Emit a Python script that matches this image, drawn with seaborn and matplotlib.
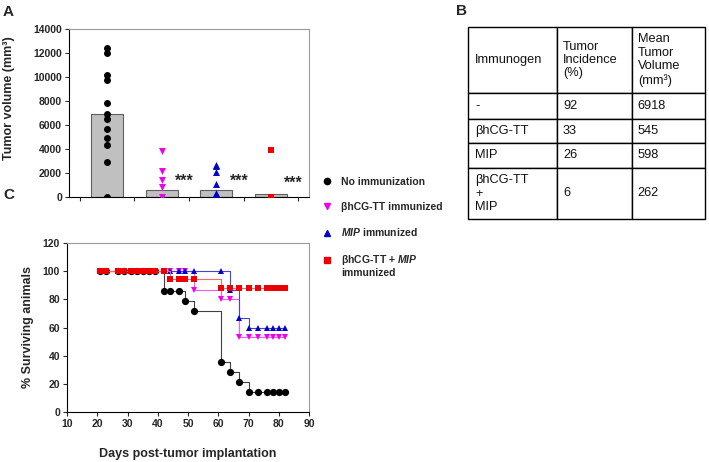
import matplotlib
matplotlib.use('Agg')
import matplotlib.pyplot as plt
from matplotlib.lines import Line2D
import numpy as np
import pandas as pd
import seaborn as sns

# ---- data ----
groups = ['No immunization', 'βhCG-TT', 'MIP', 'βhCG-TT + MIP']
vol_none = [12400, 12000, 10200, 9750, 7800, 6900, 6500, 5700, 4900, 4350, 2950, 0]
vol_bhcg = [3830, 2150, 1400, 850, 0]
vol_mip = [2700, 2550, 2050, 1120, 350, 150, 0]
vol_combo = [3950, 0]
mean_vol = [6918, 545, 598, 262]
incidence = [92, 33, 26, 6]
immunogens = ['-', 'βhCG-TT', 'MIP', 'βhCG-TT\n+\nMIP']
table_header = ['Immunogen', 'Tumor\nIncidence\n(%)', 'Mean\nTumor\nVolume\n(mm³)']
star_y = [None, 1300, 1300, 1150]

days = [21, 23, 27, 29, 31, 33, 35, 37, 39, 42, 44, 47, 49, 52,
        61, 64, 67, 70, 73, 76, 78, 80, 82]
surv_none = [100]*9 + [85.7, 85.7, 85.7, 78.6, 71.4, 35.7, 28.6, 21.4] + [14.3]*6
surv_bhcg = [100]*13 + [86.7, 80, 80] + [53.3]*7
surv_mip = [100]*15 + [86.7, 66.7] + [60]*6
surv_combo = [100]*10 + [94.1]*4 + [88.2]*9

legend_labels = ['No immunization', 'βhCG-TT immunized', r'$\mathit{MIP}$ immunized',
                 'βhCG-TT + $\\mathit{MIP}$\nimmunized']
marker_colors = ['black', '#ee00ee', '#0000cc', '#ee0000']
line_colors = ['#404040', '#ff55ff', '#4444dd', '#ff6666']
markers_a = ['o', 'v', '^', 's']
markers_c = ['o', 'v', '^', 's']

sns.set_style('ticks')
plt.rcParams['font.family'] = ['Liberation Sans', 'DejaVu Sans']
plt.rcParams['mathtext.fontset'] = 'custom'
plt.rcParams['mathtext.it'] = 'Liberation Sans:italic:bold'
plt.rcParams['mathtext.rm'] = 'Liberation Sans:bold'

fig = plt.figure(figsize=(7.09, 4.62), dpi=100)
W, H = 709, 462


def style_frame(ax):
    for s in ['left', 'bottom']:
        ax.spines[s].set_color('black')
        ax.spines[s].set_linewidth(0.8)
    for s in ['top', 'right']:
        ax.spines[s].set_visible(True)
        ax.spines[s].set_color('#9a9a9a')
        ax.spines[s].set_linewidth(0.8)
    ax.tick_params(direction='out', length=3, width=0.8, labelsize=7.5, pad=2)
    for lbl in ax.get_xticklabels() + ax.get_yticklabels():
        lbl.set_fontweight('bold')


# ---- panel A ----
ax_a = fig.add_axes([69/W, 1-197/H, 240/W, 168/H])
sns.barplot(x=groups, y=mean_vol, color='#c0c0c0', edgecolor='#606060',
            linewidth=0.8, width=0.59, saturation=1, ax=ax_a)
df_a = pd.DataFrame({
    'group': [groups[0]]*len(vol_none) + [groups[1]]*len(vol_bhcg)
             + [groups[2]]*len(vol_mip) + [groups[3]]*len(vol_combo),
    'vol': vol_none + vol_bhcg + vol_mip + vol_combo})
sizes_a = [5, 5, 5, 4.5]
for g, m, c, sz in zip(groups, markers_a, marker_colors, sizes_a):
    sns.stripplot(data=df_a[df_a['group'] == g], x='group', y='vol', order=groups,
                  jitter=False, marker=m, color=c, size=sz, linewidth=0, ax=ax_a)
for i, y in enumerate(star_y):
    if y is not None:
        ax_a.text(i + 0.42, y, '***', ha='center', va='center', fontsize=11.5,
                  fontweight='bold')
ax_a.set_xlim(-0.7, 3.7)
ax_a.set_ylim(0, 14000)
ax_a.set_yticks(np.arange(0, 14001, 2000))
ax_a.set_xticks([-0.5, 0.5, 1.5, 2.5, 3.5], labels=['']*5)
ax_a.set_xlabel('')
ax_a.set_ylabel('Tumor volume (mm³)', fontsize=9, fontweight='bold')
ax_a.yaxis.set_label_coords(-0.225, 0.59)
style_frame(ax_a)

# ---- panel B: table ----
ax_b = fig.add_axes([468/W, 1-219/H, 237/W, 192/H])
ax_b.axis('off')
cell_text = [table_header] + [[im, str(inc), str(mv)]
                              for im, inc, mv in zip(immunogens, incidence, mean_vol)]
tbl = ax_b.table(cellText=cell_text, colWidths=[89, 75, 73], cellLoc='left',
                 bbox=[0, 0, 1, 1])
tbl.auto_set_font_size(False)
tbl.set_fontsize(9.2)
row_h = [66, 26, 24, 25, 51]
for (r, c), cell in tbl.get_celld().items():
    cell.set_height(row_h[r])
    cell.set_linewidth(1.0)
    cell.set_edgecolor('black')
    cell.PAD = 0.08
    cell.get_text().set_color('#111111')
    cell.get_text().set_linespacing(1.15)

# ---- panel C ----
ax_c = fig.add_axes([67/W, 1-412/H, 242/W, 169/H])
survs = [surv_none, surv_bhcg, surv_mip, surv_combo]
msizes = [5.2, 4.8, 4.8, 4.6]
for s, m, mc, lc, ms in zip(survs, markers_c, marker_colors, line_colors, msizes):
    sns.lineplot(x=days, y=s, ax=ax_c, color=lc, linewidth=0.8, drawstyle='steps-post',
                 marker=m, markersize=ms, markerfacecolor=mc, markeredgecolor=mc,
                 markeredgewidth=0, legend=False)
ax_c.set_xlim(10, 90)
ax_c.set_ylim(0, 120)
ax_c.set_xticks(np.arange(10, 91, 10))
ax_c.set_yticks(np.arange(0, 121, 20))
ax_c.set_xlabel('Days post-tumor implantation', fontsize=9, fontweight='bold', labelpad=14)
ax_c.set_ylabel('% Surviving animals', fontsize=9, fontweight='bold', labelpad=6)
style_frame(ax_c)

handles = [Line2D([], [], ls='none', marker=m, color=c, markersize=4.5)
           for m, c in zip(markers_c, marker_colors)]
leg = fig.legend(handles, legend_labels, loc='upper left',
                 bbox_to_anchor=(322/W, 1-177/H), frameon=False, borderpad=0,
                 borderaxespad=0, handlelength=1.0, handletextpad=0.8, labelspacing=1.4,
                 prop={'size': 7.5, 'weight': 'bold'})
# put the marker of the two-line entry next to its first line
last = leg.legend_handles[3]
last.set_ydata(np.asarray(last.get_ydata()) + 4.5)

# ---- panel letters ----
fig.text(3/W, 1-5/H, 'A', fontsize=11, fontweight='bold', va='top')
fig.text(456/W, 1-4/H, 'B', fontsize=11, fontweight='bold', va='top')
fig.text(3/W, 1-188/H, 'C', fontsize=11, fontweight='bold', va='top')

fig.savefig('out.png', dpi=100)
